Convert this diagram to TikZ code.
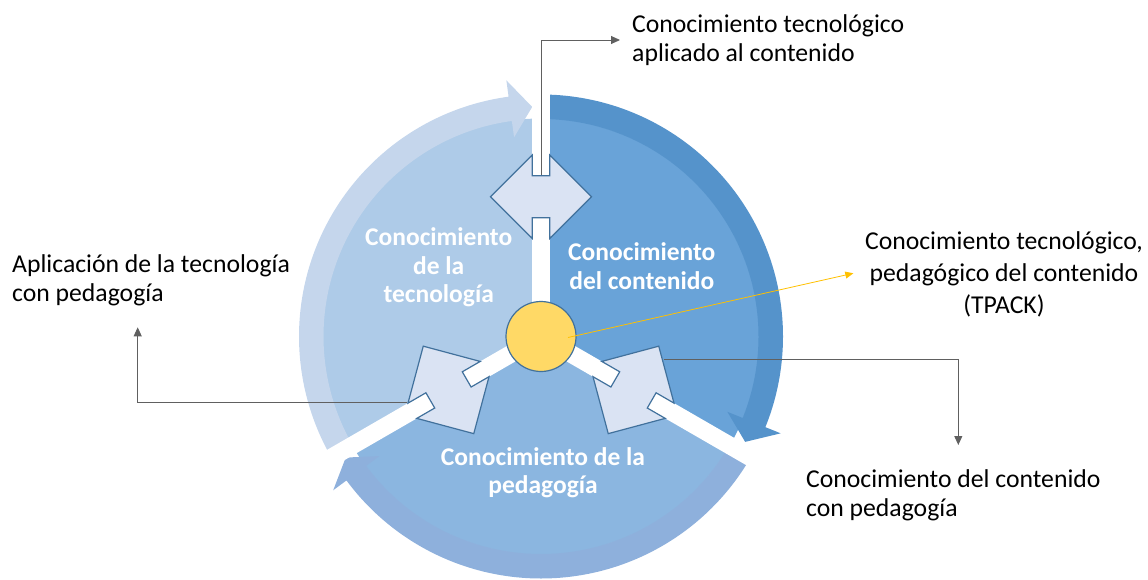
\documentclass[tikz,border=0pt]{standalone}
\usepackage{fontspec}
\setmainfont{Carlito}
\usetikzlibrary{arrows.meta}
\definecolor{secA}{HTML}{AECBE8}
\definecolor{ringA}{HTML}{C5D6EC}
\definecolor{secB}{HTML}{69A3D8}
\definecolor{ringB}{HTML}{5593CB}
\definecolor{secC}{HTML}{8BB6E0}
\definecolor{ringC}{HTML}{8EB0DC}
\definecolor{boxfill}{HTML}{DAE3F3}
\definecolor{boxline}{HTML}{41719C}
\definecolor{core}{HTML}{FFD966}
\definecolor{callgray}{HTML}{606060}
\definecolor{tpackline}{HTML}{FFC000}
\tikzset{
  lbl/.style={font=\fontsize{25.7}{29}\selectfont, inner sep=0pt, align=left, anchor=base west},
  wlbl/.style={font=\bfseries\fontsize{25.5}{28.3}\selectfont, text=white, inner sep=0pt, align=center, anchor=base},
  callout/.style={draw=callgray, line width=0.9pt, -{Triangle[length=9pt,width=8pt]}},
  yline/.style={draw=tpackline, line width=0.8pt, -{Triangle[length=8pt,width=7pt]}},
  notchbox/.style={fill=boxfill, draw=boxline, line width=1.2pt, line join=miter},
  gapbar/.style={fill=white},
  conn/.pic={\path[notchbox] (-50.5,0) -- (-8.8,41.7) -- (-8.8,21) -- (8.8,21) -- (8.8,41.7)
      -- (50.5,0) -- (8.8,-41.7) -- (8.8,-21) -- (-8.8,-21) -- (-8.8,-41.7) -- cycle;}
}
\begin{document}
\begin{tikzpicture}[x=1pt,y=1pt]
\useasboundingbox (0,0) rectangle (1148,-580);
\begin{scope}[shift={(541,-336.5)}]
  % sectors
  \fill[secA] (0,0) -- (90:218) arc[start angle=90,end angle=210,radius=218] -- cycle;
  \fill[secB] (0,0) -- (-30:218) arc[start angle=-30,end angle=90,radius=218] -- cycle;
  \fill[secC] (0,0) -- (210:218) arc[start angle=210,end angle=330,radius=218] -- cycle;
  % ring arrows
  \fill[ringA] (210:242) arc[start angle=210,end angle=97.7,radius=242] -- (97.7:258.5)
     -- (92.2:229.75) -- (97.7:201) -- (97.7:217.5) arc[start angle=97.7,end angle=210,radius=217.5] -- cycle;
  \fill[ringB] (90:242) arc[start angle=90,end angle=-22,radius=242] -- (-22:258.5)
     -- (-27.3:229.75) -- (-22:201) -- (-22:217.5) arc[start angle=-22,end angle=90,radius=217.5] -- cycle;
  \fill[ringC] (-30:242) arc[start angle=-30,end angle=-143.5,radius=242] -- (-143.5:258.5)
     -- (-148.2:229.75) -- (-143.5:201) -- (-143.5:217.5) arc[start angle=-143.5,end angle=-30,radius=217.5] -- cycle;
  % white gaps
  \fill[gapbar, rotate=90] (0,-8.8) rectangle (275,8.8);
  \fill[gapbar, rotate=210] (0,-8.8) rectangle (275,8.8);
  \fill[gapbar, rotate=330] (0,-8.8) rectangle (275,8.8);
\end{scope}
% callout connectors
\coordinate (c1s) at (541,-175.7);
\coordinate (c1e) at (620,-40);
\coordinate (c2s) at (407.4,-402.5);
\coordinate (c2e) at (137.7,-327.3);
\coordinate (c3s) at (664,-359.3);
\coordinate (c3e) at (958.3,-445);
\draw[callout] (c1s) |- (c1e);
\draw[callout] (c2s) -| (c2e);
\draw[callout] (c3s) -| (c3e);
\begin{scope}[shift={(541,-336.5)}]
  \pic at (90:139.8) {conn};
  \pic[rotate=120] at (210:106.8) {conn};
  \pic[rotate=-120] at (330:106.8) {conn};
  \node[circle, minimum size=70pt, inner sep=0pt, fill=core, draw=boxline, line width=1.2pt] (tpack) at (0,0) {};
\end{scope}
\coordinate (c4s) at (568,-337.5);
\coordinate (c4e) at (853.3,-273.3);
\draw[yline] (c4s) -- (c4e);
% white labels (anchor = baseline of last line)
\node[wlbl] (wA) at (438.7,-302.5) {Conocimiento\\de la\\tecnología};
\node[wlbl] (wB) at (641.8,-289) {Conocimiento\\del contenido};
\node[wlbl] (wC) at (543,-493.5) {Conocimiento de la\\pedagogía};
% black labels (anchor = baseline of last line)
\node[lbl] (tcap) at (632,-61.5) {Conocimiento tecnológico\\aplicado al contenido};
\node[lbl] (tapl) at (12,-301) {Aplicación de la tecnología\\con pedagogía};
\node[lbl, align=center, anchor=base, font=\fontsize{25.7}{32}\selectfont] (ttp) at (1004,-313.3) {Conocimiento tecnológico,\\pedagógico del contenido\\(TPACK)};
\node[lbl] (tcp) at (806,-516.5) {Conocimiento del contenido\\con pedagogía};
\end{tikzpicture}
\end{document}
